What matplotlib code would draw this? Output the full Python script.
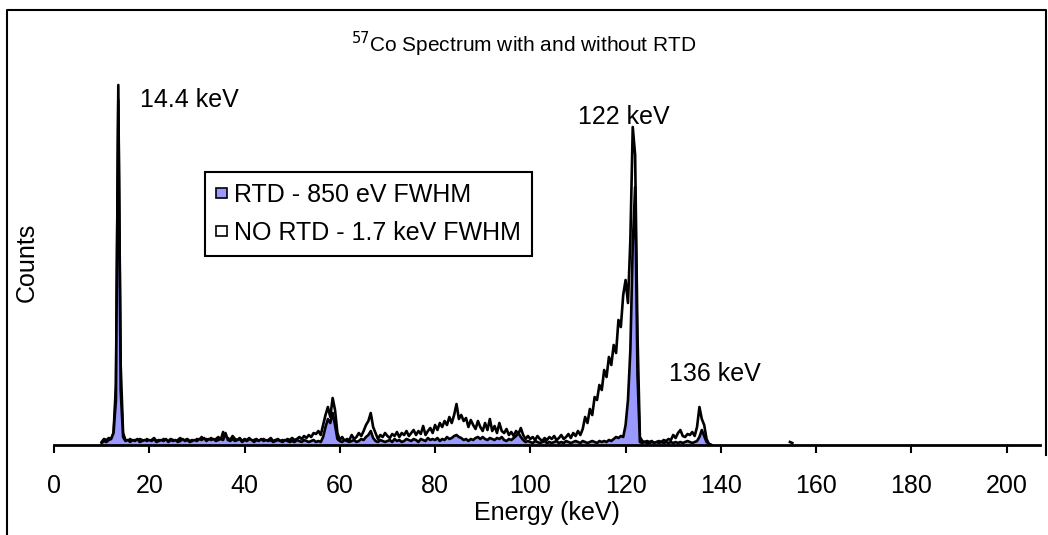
"""57Co spectrum with and without RTD - area chart recreation."""

import matplotlib
matplotlib.use("Agg")
import matplotlib.pyplot as plt
from matplotlib.patches import Patch
import numpy as np

plt.rcParams["font.family"] = ["Liberation Sans", "DejaVu Sans"]

# energy channels (keV), 0.5 keV bins from 10 to 159.5
energy = np.arange(10.0, 160.0, 0.5)

# counts, arbitrary units; one row = 5 keV (10 bins)
no_rtd = [
    3, 6, 5, 7, 6, 12, 60, 345, 80, 12,          # 10
    5, 4, 6, 3, 5, 4, 6, 5, 3, 6,                # 15
    4, 5, 7, 4, 5, 3, 6, 5, 4, 6,                # 20
    5, 3, 5, 7, 4, 5, 6, 4, 5, 3,                # 25
    6, 5, 8, 4, 6, 5, 7, 4, 6, 8,                # 30
    5, 13, 6, 7, 5, 9, 6, 5, 7, 4,               # 35
    6, 5, 7, 4, 5, 6, 4, 5, 6, 4,                # 40
    5, 7, 4, 5, 6, 4, 5, 3, 6, 5,                # 45
    7, 5, 6, 8, 6, 9, 7, 10, 8, 12,              # 50
    11, 14, 10, 20, 30, 38, 28, 47, 35, 12,      # 55
    5, 8, 4, 6, 5, 10, 6, 8, 12, 9,              # 60
    14, 20, 24, 32, 18, 12, 6, 10, 8, 12,        # 65
    9, 7, 11, 9, 13, 8, 12, 10, 14, 9,           # 70
    12, 15, 10, 14, 11, 19, 10, 14, 17, 12,      # 75
    20, 15, 22, 18, 24, 20, 28, 22, 30, 41,      # 80
    26, 30, 24, 27, 18, 25, 20, 16, 24, 18,      # 85
    14, 22, 15, 26, 14, 19, 12, 22, 14, 12,      # 90
    16, 10, 13, 9, 14, 11, 17, 10, 6, 9,         # 95
    6, 8, 5, 9, 6, 4, 7, 5, 8, 6,                # 100
    9, 5, 7, 10, 6, 8, 11, 7, 12, 9,             # 105
    14, 10, 16, 28, 22, 36, 30, 48, 45, 60,      # 110
    55, 75, 68, 88, 80, 100, 92, 125, 118, 150,  # 115
    165, 142, 205, 318, 290, 110, 8, 4, 3, 4,    # 120
    3, 4, 2, 3, 4, 3, 5, 4, 6, 5,                # 125
    10, 7, 12, 15, 9, 8, 11, 10, 13, 9,          # 130
    18, 38, 26, 20, 6, 1, 0, 0, 0, 0,            # 135
    0, 0, 0, 0, 0, 0, 0, 0, 0, 0,                # 140
    0, 0, 0, 0, 0, 0, 0, 0, 0, 0,                # 145
    0, 0, 0, 0, 0, 0, 0, 0, 0, 3,                # 150
    2, 0, 0, 0, 0, 0, 0, 0, 0, 0,                # 155
]

rtd = [
    2, 4, 3, 5, 6, 12, 45, 360, 55, 8,           # 10
    4, 5, 3, 5, 4, 6, 3, 4, 5, 4,                # 15
    5, 4, 6, 3, 4, 5, 4, 6, 3, 5,                # 20
    4, 5, 3, 4, 6, 4, 5, 3, 4, 5,                # 25
    4, 6, 5, 7, 4, 6, 5, 6, 4, 5,                # 30
    6, 5, 12, 5, 4, 6, 4, 5, 6, 3,               # 35
    5, 4, 6, 5, 3, 5, 4, 6, 4, 5,                # 40
    4, 5, 3, 4, 5, 4, 3, 5, 4, 3,                # 45
    4, 3, 5, 4, 3, 5, 4, 3, 4, 5,                # 50
    3, 4, 3, 8, 18, 26, 22, 32, 20, 6,           # 55
    4, 3, 5, 4, 3, 4, 5, 3, 4, 6,                # 60
    5, 8, 10, 14, 7, 4, 3, 5, 4, 3,              # 65
    4, 5, 3, 6, 4, 5, 3, 4, 6, 5,                # 70
    4, 6, 5, 3, 6, 5, 4, 7, 5, 6,                # 75
    5, 7, 4, 6, 5, 8, 6, 7, 9, 10,               # 80
    8, 7, 5, 6, 4, 6, 5, 7, 8, 6,                # 85
    8, 6, 5, 7, 6, 5, 7, 6, 8, 5,                # 90
    4, 6, 5, 7, 9, 12, 8, 5, 3, 4,               # 95
    3, 2, 4, 3, 2, 3, 4, 2, 3, 2,                # 100
    3, 4, 2, 3, 2, 4, 3, 2, 3, 4,                # 105
    3, 2, 4, 3, 2, 3, 4, 3, 2, 4,                # 110
    3, 4, 3, 5, 4, 6, 8, 7, 9, 8,                # 115
    20, 45, 95, 200, 258, 70, 3, 2, 3, 2,        # 120
    2, 3, 2, 3, 2, 3, 2, 3, 2, 3,                # 125
    2, 3, 2, 3, 2, 3, 4, 3, 2, 3,                # 130
    4, 8, 15, 9, 3, 1, 0, 0, 0, 0,               # 135
    0, 0, 0, 0, 0, 0, 0, 0, 0, 0,                # 140
    0, 0, 0, 0, 0, 0, 0, 0, 0, 0,                # 145
    0, 0, 0, 0, 0, 0, 0, 0, 0, 0,                # 150
    0, 0, 0, 0, 0, 0, 0, 0, 0, 0,                # 155
]

xticks = [0, 20, 40, 60, 80, 100, 120, 140, 160, 180, 200]
peak_labels = ["14.4 keV", "122 keV", "136 keV"]
label_pos = [(18.0, 345), (119.6, 328), (138.7, 71)]
legend_labels = ["RTD - 850 eV FWHM", "NO RTD - 1.7 keV FWHM"]

RTD_BLUE = "#9999FF"
FS = 18


def _trace(counts):
    """Hide the empty channels past the last peak so no line sits on the axis."""
    arr = np.asarray(counts, dtype=float)
    return np.ma.masked_where((energy > 138) & (arr == 0), arr)


W, H = 1048, 535
fig = plt.figure(figsize=(W / 100, H / 100), dpi=100)
ax = fig.add_axes([54 / W, 1 - 445 / H, (1040 - 54) / W, (445 - 80) / H])

# NO RTD behind (white fill), RTD in front (blue fill)
ax.fill_between(energy, 0, no_rtd, facecolor="white", linewidth=0, zorder=1)
ax.plot(energy, _trace(no_rtd), color="black", lw=1.9, zorder=2)
ax.fill_between(energy, 0, rtd, facecolor=RTD_BLUE, linewidth=0, zorder=3)
ax.plot(energy, _trace(rtd), color="black", lw=1.9, zorder=4)

ax.set_xlim(0, 207)
ax.set_ylim(0, 365)
ax.set_xticks(xticks)
ax.set_yticks([])
ax.tick_params(axis="x", direction="out", length=6, width=1.5,
               labelsize=FS, pad=15)
for side in ("left", "right", "top"):
    ax.spines[side].set_visible(False)
ax.spines["bottom"].set_linewidth(2)
ax.spines["bottom"].set_zorder(5)

ax.set_xlabel("Energy (keV)", fontsize=FS, labelpad=2)
ax.set_ylabel("Counts", fontsize=FS, labelpad=11)

for text, (ex, ey) in zip(peak_labels, label_pos):
    ha = "left" if text.startswith("14") else "center"
    ax.text(ex, ey, text, fontsize=FS, ha=ha, va="center")

fig.text(0.5, 1 - 44 / H, r"$^{57}$Co Spectrum with and without RTD",
         fontsize=15, ha="center", va="center")

handles = [
    Patch(facecolor=RTD_BLUE, edgecolor="black", linewidth=1.2),
    Patch(facecolor="white", edgecolor="black", linewidth=1.2),
]
leg = ax.legend(handles, legend_labels, loc="upper left",
                bbox_to_anchor=(0.153, 0.748), borderaxespad=0,
                fontsize=FS, handlelength=0.42, handleheight=0.27,
                handletextpad=0.3, labelspacing=0.55, borderpad=0.45,
                fancybox=False, framealpha=1)
leg.get_frame().set_edgecolor("black")
leg.get_frame().set_linewidth(1.5)

# outer chart border (open at the bottom, as in the cropped original)
border_x = [7 / W, 7 / W, 1046 / W, 1046 / W]
border_y = [0, 1 - 10 / H, 1 - 10 / H, 1 - 455 / H]
fig.add_artist(plt.Line2D(border_x, border_y, color="black", lw=1.5,
                          transform=fig.transFigure))

fig.savefig("out.png", dpi=100)
